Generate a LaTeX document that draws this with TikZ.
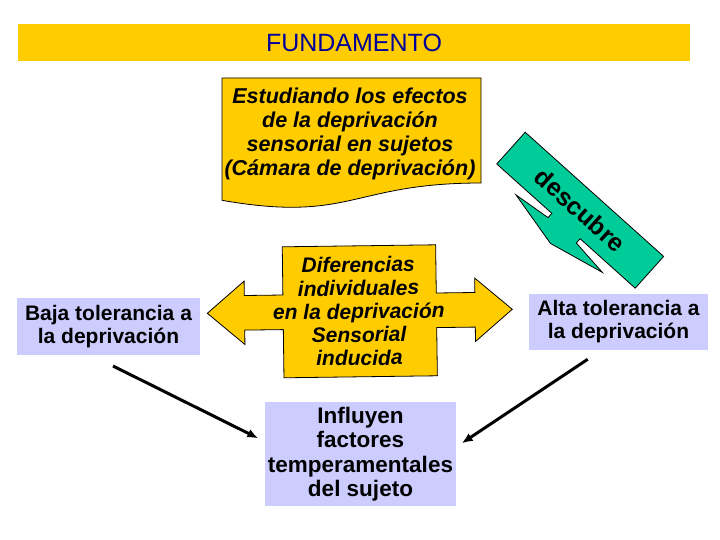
\documentclass[tikz,border=0pt]{standalone}
\usepackage{fontspec}
\setmainfont{Liberation Sans}
\usetikzlibrary{arrows.meta}
\definecolor{gold}{HTML}{FFCC00}
\definecolor{lav}{HTML}{CCCCFF}
\definecolor{teal2}{HTML}{00CC99}
\definecolor{navy2}{HTML}{000099}
\begin{document}
\begin{tikzpicture}[x=1pt,y=-1pt,
  shapeline/.style={draw=black, line width=0.8pt, line join=miter},
  lavbox/.style={fill=lav, inner sep=0pt, align=center, font=\fontsize{21}{23}\selectfont\bfseries},
  itxt/.style={align=center, inner sep=0pt, font=\fontsize{21.5}{24}\selectfont\bfseries\itshape},
  conn/.style={line width=3pt, -{Latex[length=11pt,width=9pt]}}
]
\useasboundingbox[fill=white] (0,0) rectangle (720,540);

% title banner
\node[fill=gold, minimum width=672pt, minimum height=37pt, inner sep=0pt,
      text=navy2, font=\fontsize{25}{28}\selectfont] (banner) at (354,42.5) {FUNDAMENTO};

% document shape
\path[shapeline, fill=gold] (222,78) -- (481,78) -- (481,183)
  .. controls (351.5,183) and (351.5,223) .. (222,200.3) -- cycle;
\node[itxt] (estud) at (350,134) {Estudiando los efectos\\de la deprivación\\sensorial en sujetos\\(Cámara de deprivación)};

% green callout
\begin{scope}[shift={(580.2,210.2)}, rotate=-41.9]
\path[shapeline, fill=teal2] (-93,-21.3) -- (93,-21.3) -- (93,21.3) -- (19,21.3) -- (19,27)
  -- (58,31.5) -- (0,44.6) -- (-58,31.5) -- (-19,27) -- (-19,21.3) -- (-93,21.3) -- cycle;
\node[rotate=-41.9, inner sep=0pt, font=\fontsize{25}{28}\selectfont\bfseries] (desc) at (0,0) {descubre};
\end{scope}

% double arrow
\begin{scope}[shift={(359.8,311.3)}, rotate=0.75]
\path[shapeline, fill=gold] (-76.7,-65.5) -- (76.7,-65.5) -- (76.7,-17.3) -- (115.3,-17.3)
  -- (115.3,-31.7) -- (152.5,0) -- (115.3,31.7) -- (115.3,17.3) -- (76.7,17.3) -- (76.7,65.5)
  -- (-76.7,65.5) -- (-76.7,17.3) -- (-115.3,17.3) -- (-115.3,31.7) -- (-152.5,0)
  -- (-115.3,-31.7) -- (-115.3,-17.3) -- (-76.7,-17.3) -- cycle;
\node[itxt, rotate=0.75, font=\fontsize{21}{23.3}\selectfont\bfseries\itshape] (dif) at (-1,0)
  {Diferencias\\individuales\\en la deprivación\\Sensorial\\inducida};
\end{scope}

% lavender boxes
\node[lavbox, minimum width=183pt, minimum height=57pt] (baja) at (108.5,326.5) {Baja tolerancia a\\la deprivación};
\node[lavbox, minimum width=179pt, minimum height=56pt] (alta) at (618.5,322) {Alta tolerancia a\\la deprivación};
\node[lavbox, minimum width=191pt, minimum height=104pt, font=\fontsize{22.5}{24.5}\selectfont\bfseries] (infl) at (360.5,454)
  {Influyen\\factores\\temperamentales\\del sujeto};

% connectors
\coordinate (s1) at (113,366);
\coordinate (e1) at (258.3,438.3);
\coordinate (s2) at (587.7,359.3);
\coordinate (e2) at (461.7,443.3);
\draw[conn] (s1) -- (e1);
\draw[conn] (s2) -- (e2);
\end{tikzpicture}
\end{document}
